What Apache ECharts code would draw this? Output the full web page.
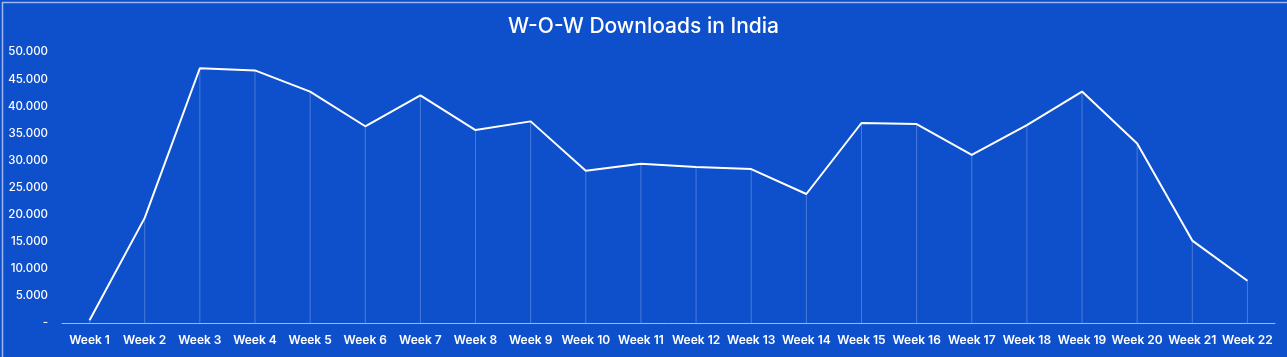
<!DOCTYPE html>
<html>
<head>
<meta charset="utf-8">
<script src="https://cdn.jsdelivr.net/npm/echarts@6/dist/echarts.min.js"></script>
<style>
html,body{margin:0;padding:0;background:#0e4fcb;}
#chart{width:1287px;height:357px;}
</style>
</head>
<body>
<div id="chart"></div>
<script>
const categories = ["Week 1","Week 2","Week 3","Week 4","Week 5","Week 6","Week 7","Week 8","Week 9","Week 10","Week 11","Week 12","Week 13","Week 14","Week 15","Week 16","Week 17","Week 18","Week 19","Week 20","Week 21","Week 22"];
const downloads = [500,19400,47000,46600,42700,36300,42000,35600,37200,28100,29400,28800,28400,23800,36900,36700,31000,36500,42700,33100,15200,7800];
const titleText = "W-O-W Downloads in India";

function fmt(v){
  if (v === 0) return "-";
  return String(v).replace(/\B(?=(\d{3})+(?!\d))/g, ".");
}

const chart = echarts.init(document.getElementById('chart'), null, {renderer:'canvas'});
chart.setOption({
  backgroundColor: '#0e4fcb',
  animation: false,
  title: {
    text: titleText,
    left: 'center',
    top: 11,
    textStyle: {color:'#ffffff', fontSize:21, fontWeight:500, fontFamily:'Inter'}
  },
  graphic: [{
    type:'rect', left:0, top:0, shape:{width:1286, height:356},
    style:{fill:'none', stroke:'#9db8ee', lineWidth:1.5}, silent:true
  }],
  grid: {left:62, right:12, top:52, bottom:34},
  xAxis: {
    type:'category',
    data: categories,
    boundaryGap: true,
    axisLine: {show:true, lineStyle:{color:'rgba(255,255,255,0.6)', width:1}},
    axisTick: {show:false},
    axisLabel: {color:'#ffffff', fontSize:12, fontWeight:600, fontFamily:'Inter', margin:11, interval:0},
    splitLine: {show:false}
  },
  yAxis: {
    type:'value',
    min:0, max:50000, interval:5000,
    axisLine:{show:false}, axisTick:{show:false},
    splitLine:{show:false},
    axisLabel:{color:'#ffffff', fontSize:11.5, fontWeight:500, fontFamily:'Inter', margin:14, formatter: fmt}
  },
  series: [
    {
      type:'bar',
      data: downloads,
      barWidth: 1,
      itemStyle:{color:'rgba(255,255,255,0.25)'},
      silent:true,
      z:1
    },
    {
      type:'line',
      data: downloads,
      barGap:'-100%',
      symbol:'none',
      lineStyle:{color:'#ffffff', width:2},
      z:3
    }
  ]
});
</script>
</body>
</html>
